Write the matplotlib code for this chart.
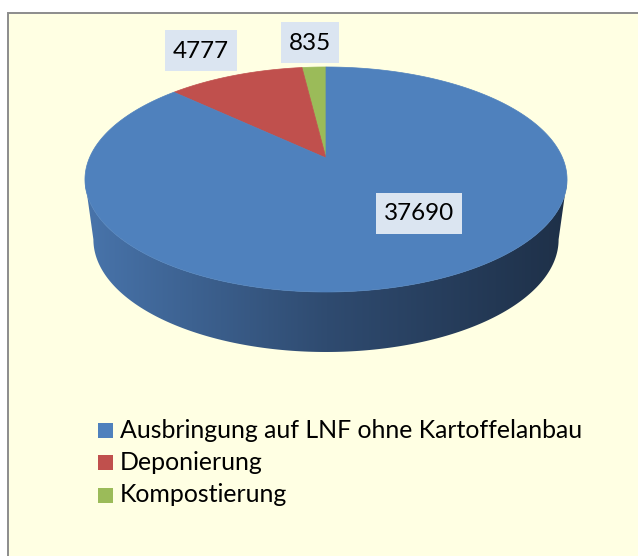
import numpy as np
import matplotlib
matplotlib.use("Agg")
import matplotlib.pyplot as plt
from matplotlib.patches import Polygon, Rectangle
from matplotlib.colors import LinearSegmentedColormap

# Data
categories = ["Ausbringung auf LNF ohne Kartoffelanbau", "Deponierung", "Kompostierung"]
values = [37690, 4777, 835]
colors = ["#4f81bd", "#c0504d", "#9bbb59"]

# Layout (pixels)
W, H = 638, 556
CX, CY = 326, 158          # pie apex on screen
A, B, K = 236.6, 108.4, 0.191   # perspective ellipse parameters
DEPTH, SHRINK = 60, 0.965
label_pos = {0: (419, 213), 1: (201, 50), 2: (310, 42)}
BOX_PADX, BOX_H = 7.5, 41
BG = "#ffffe3"

plt.rcParams["font.family"] = ["Lato", "DejaVu Sans"]

fig = plt.figure(figsize=(W / 100, H / 100), dpi=100)
fig.patch.set_facecolor("white")
ax = fig.add_axes([0, 0, 1, 1])
ax.set_xlim(0, W)
ax.set_ylim(H, 0)
ax.axis("off")

# chart area frame
ax.add_patch(Rectangle((7.5, 12.5), W + 20, H + 20, facecolor=BG,
                       edgecolor="#8c8c8c", linewidth=1.4, zorder=0))


def project(theta_deg, drop=0.0, scale=1.0):
    t = np.radians(theta_deg)
    u, v = np.cos(t), np.sin(t)
    den = 1 + K * v
    x = CX + scale * A * u / den
    y = CY - B * v / den + drop
    return x, y


# side wall (front half, blue slice only)
th = np.linspace(180 + np.degrees(np.arcsin(K)), 360 - np.degrees(np.arcsin(K)), 200)
xt, yt = project(th)
xb, yb = project(th[::-1], drop=DEPTH, scale=SHRINK)
side_pts = np.column_stack([np.r_[xt, xb], np.r_[yt, yb]])
side = Polygon(side_pts, closed=True, facecolor="none", edgecolor="none")
ax.add_patch(side)
cmap = LinearSegmentedColormap.from_list(
    "side", [(0, "#4874ab"), (0.5, "#2f4b70"), (1, "#1e3048")])
grad = np.linspace(0, 1, 256).reshape(1, -1)
x0, x1 = side_pts[:, 0].min(), side_pts[:, 0].max()
y0, y1 = side_pts[:, 1].min(), side_pts[:, 1].max()
im = ax.imshow(grad, cmap=cmap, extent=(x0, x1, y1, y0), aspect="auto",
               interpolation="bilinear", zorder=1)
im.set_clip_path(side)

# top face slices, counter-clockwise from 12 o'clock, smallest first
total = float(sum(values))
order = [2, 1, 0]
start = 90.0
for i in order:
    span = 360.0 * values[i] / total
    angs = np.linspace(start, start + span, max(int(span * 2), 4))
    px, py = project(angs)
    pts = np.column_stack([np.r_[CX, px], np.r_[CY, py]])
    ax.add_patch(Polygon(pts, closed=True, facecolor=colors[i],
                         edgecolor=colors[i], linewidth=0.5, zorder=2))
    start += span

# value labels with their boxes
fig.canvas.draw()
renderer = fig.canvas.get_renderer()
inv = ax.transData.inverted()
for i, v in enumerate(values):
    x, y = label_pos[i]
    t = ax.text(x, y + 1, f"{v}", ha="center", va="center", fontsize=17.5,
                color="black", zorder=4)
    bb = t.get_window_extent(renderer)
    (bx0, _), (bx1, _) = inv.transform([[bb.x0, bb.y0], [bb.x1, bb.y1]])
    wbox = abs(bx1 - bx0) + 2 * BOX_PADX
    ax.add_patch(Rectangle((x - wbox / 2, y - BOX_H / 2), wbox, BOX_H,
                           facecolor="#dbe5f1", edgecolor="none", zorder=3))

# legend
rows_y = [430, 462, 495]
for i, name in enumerate(categories):
    ax.add_patch(Rectangle((98, rows_y[i] - 7.5), 15, 15, facecolor=colors[i],
                           edgecolor="none", zorder=3))
    ax.text(120, rows_y[i], name, ha="left", va="center", fontsize=17.9,
            color="black", zorder=3)

fig.savefig("out.png", dpi=100, facecolor="white")
